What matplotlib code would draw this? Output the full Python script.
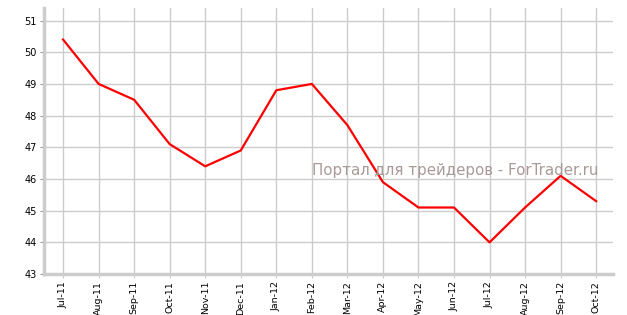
import matplotlib
matplotlib.use('Agg')
import matplotlib.pyplot as plt

months = ['Jul-11', 'Aug-11', 'Sep-11', 'Oct-11', 'Nov-11', 'Dec-11', 'Jan-12', 'Feb-12',
          'Mar-12', 'Apr-12', 'May-12', 'Jun-12', 'Jul-12', 'Aug-12', 'Sep-12', 'Oct-12']
values = [50.4, 49.0, 48.5, 47.1, 46.4, 46.9, 48.8, 49.0,
          47.7, 45.9, 45.1, 45.1, 44.0, 45.1, 46.1, 45.3]
yticks = [43, 44, 45, 46, 47, 48, 49, 50, 51]

fig = plt.figure(figsize=(6.27, 3.15), dpi=100)
ax = fig.add_axes([0.070, 0.130, 0.908, 0.845])

x = list(range(len(months)))
ax.plot(x, values, color='#ff0000', lw=1.6, zorder=3)

ax.set_xlim(-0.54, len(months) - 0.52)
ax.set_ylim(43, 51.4)
ax.set_xticks(x)
ax.set_xticklabels(months, rotation=90, fontsize=6.8)
ax.set_yticks(yticks)
ax.set_yticklabels([str(v) for v in yticks], fontsize=7)
ax.grid(True, color='#cccccc', lw=1)
ax.set_axisbelow(True)

for s in ['top', 'right']:
    ax.spines[s].set_visible(False)
for s in ['left', 'bottom']:
    ax.spines[s].set_color('#cccccc')
    ax.spines[s].set_linewidth(2.5)
ax.tick_params(axis='y', length=3, width=0.8, color='#999999', pad=2)
ax.tick_params(axis='x', length=3, width=0.8, color='#cccccc', pad=2)

fig.text(0.726, 0.46, 'Портал для трейдеров - ForTrader.ru', fontsize=10.8,
         color='#a89a98', ha='center', va='center', zorder=5)

fig.savefig('out.png', dpi=100)
